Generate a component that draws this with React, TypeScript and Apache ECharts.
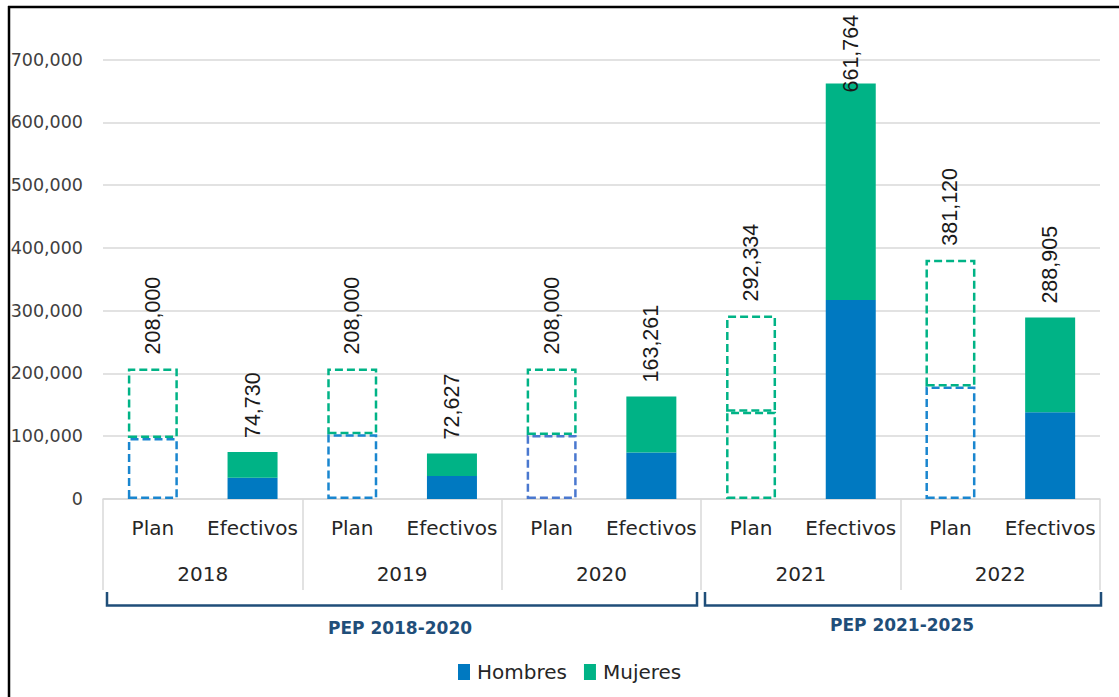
import React, { useEffect, useRef } from "react";
import * as echarts from "echarts";

const categories = ["Plan", "Efectivos", "Plan", "Efectivos", "Plan", "Efectivos", "Plan", "Efectivos", "Plan", "Efectivos"];
const years = ["2018", "2019", "2020", "2021", "2022"];
const totals = [208000, 74730, 208000, 72627, 208000, 163261, 292334, 661764, 381120, 288905];
const hombres = [97000, 34000, 103000, 36500, 102000, 74000, 139000, 317000, 179000, 138000];
const periods = ["PEP 2018-2020", "PEP 2021-2025"];
const legendNames = ["Hombres", "Mujeres"];

const BLUE = "#0079C1";
const GREEN = "#00B386";
const NAVY = "#1F4E79";
const planLowerColor: Record<number, string> = { 0: "#1A86CF", 2: "#1A86CF", 4: "#4A78CF", 6: "#00B386", 8: "#1A86CF" };
const FONT = "DejaVu Sans";

const isPlan = (i: number) => i % 2 === 0;
const fmt = (v: number) => v.toLocaleString("en-US");

export default function App() {
  const ref = useRef<HTMLDivElement>(null);
  useEffect(() => {
    document.body.style.margin = "0";
    if (!ref.current) return;
    const chart = echarts.init(ref.current, null, { renderer: "svg" });
    const mujeres = totals.map((t, i) => t - hombres[i]);
    const dash = [8, 4];
    const hombresData = hombres.map((v, i) =>
      isPlan(i)
        ? { value: v, itemStyle: { color: "rgba(0,0,0,0)", borderColor: planLowerColor[i], borderWidth: 2.5, borderType: dash } }
        : { value: v, itemStyle: { color: BLUE } }
    );
    const mujeresData = mujeres.map((v, i) => {
      const item: any = isPlan(i)
        ? { value: v, itemStyle: { color: "rgba(0,0,0,0)", borderColor: GREEN, borderWidth: 2.5, borderType: dash } }
        : { value: v, itemStyle: { color: GREEN } };
      if (totals[i] > 600000) item.label = { distance: -9 };
      return item;
    });
    chart.setOption({
      animation: false,
      grid: { left: 103, right: 19, top: 59.5, bottom: 198, containLabel: false },
      legend: {
        data: legendNames,
        bottom: 10,
        left: 453,
        icon: "rect",
        itemWidth: 12,
        itemHeight: 16,
        itemGap: 17,
        textStyle: { fontFamily: FONT, fontSize: 20, color: "#262626", padding: [0, 0, 0, 2] },
      },
      xAxis: [
        {
          type: "category",
          data: categories,
          axisLine: { lineStyle: { color: "#d9d9d9", width: 1.5 } },
          axisTick: { show: false },
          axisLabel: { interval: 0, margin: 19, fontFamily: FONT, fontSize: 20, color: "#262626" },
        },
        {
          type: "category",
          data: years,
          position: "bottom",
          axisLine: { show: false },
          axisTick: { show: true, length: 91, lineStyle: { color: "#d9d9d9", width: 1.5 } },
          axisLabel: { interval: 0, margin: 65, fontFamily: FONT, fontSize: 20, color: "#262626" },
        },
      ],
      yAxis: {
        type: "value",
        min: 0,
        max: 700000,
        interval: 100000,
        axisLine: { show: false },
        axisTick: { show: false },
        splitLine: { lineStyle: { color: "#d9d9d9", width: 1.5 } },
        axisLabel: { margin: 20, formatter: (v: number) => fmt(v), fontFamily: FONT, fontSize: 17.5, color: "#404040" },
      },
      series: [
        {
          name: "Hombres",
          type: "bar",
          stack: "total",
          barWidth: 50,
          itemStyle: { color: BLUE },
          data: hombresData,
        },
        {
          name: "Mujeres",
          type: "bar",
          stack: "total",
          barWidth: 50,
          itemStyle: { color: GREEN },
          data: mujeresData,
          label: {
            show: true,
            position: "top",
            rotate: 90,
            align: "left",
            verticalAlign: "middle",
            distance: 14,
            formatter: (p: any) => fmt(totals[p.dataIndex]),
            fontFamily: "Liberation Sans",
            fontSize: 21.5,
            color: "#1a1a1a",
          },
        },
      ],
      graphic: [
        { type: "line", shape: { x1: 8, y1: 7, x2: 1119, y2: 7 }, style: { stroke: "#000", lineWidth: 2.5 } },
        { type: "line", shape: { x1: 9, y1: 6, x2: 9, y2: 697 }, style: { stroke: "#000", lineWidth: 2.5 } },
        {
          type: "polyline",
          shape: { points: [[107, 592], [107, 605.5], [697, 605.5], [697, 592]] },
          style: { stroke: NAVY, lineWidth: 2.5, fill: "none" },
        },
        {
          type: "polyline",
          shape: { points: [[705, 592], [705, 605.5], [1101, 605.5], [1101, 592]] },
          style: { stroke: NAVY, lineWidth: 2.5, fill: "none" },
        },
        {
          type: "text",
          x: 400,
          y: 628,
          style: { text: periods[0], fill: NAVY, font: `bold 17px "${FONT}"`, textAlign: "center", textVerticalAlign: "middle" },
        },
        {
          type: "text",
          x: 902,
          y: 625,
          style: { text: periods[1], fill: NAVY, font: `bold 17px "${FONT}"`, textAlign: "center", textVerticalAlign: "middle" },
        },
      ],
    });
    return () => chart.dispose();
  }, []);
  return <div ref={ref} style={{ width: 1119, height: 697 }} />;
}
